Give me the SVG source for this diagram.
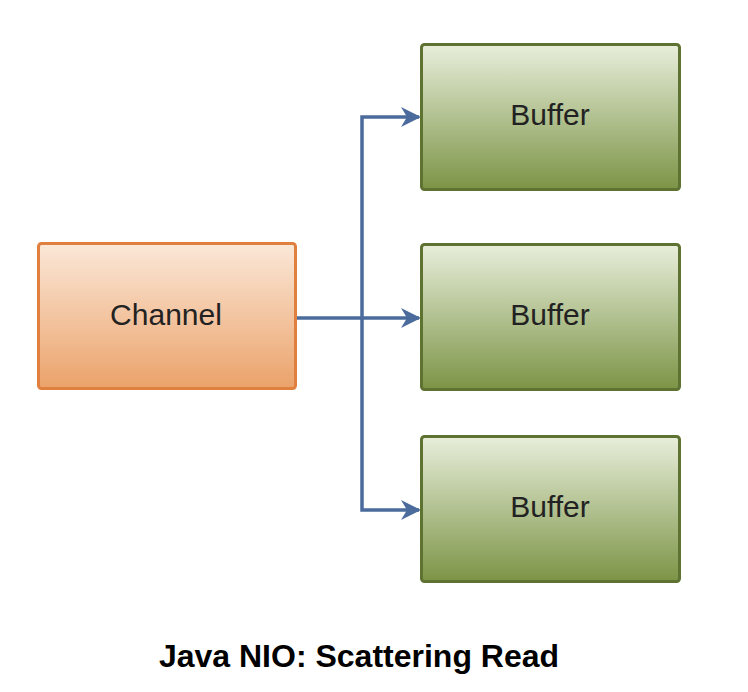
<svg xmlns="http://www.w3.org/2000/svg" width="748" height="692" viewBox="0 0 748 692">
<style>
.lbl{font-family:"Liberation Sans",Arial,sans-serif;font-size:30px;fill:#222;text-anchor:middle;dominant-baseline:central}
.ch{fill:url(#gOrange);stroke:#e0803f;stroke-width:3}
.bf{fill:url(#gGreen);stroke:#5e7232;stroke-width:3}
.con{fill:none;stroke:#4a6b9c;stroke-width:3.5}
.title{font-family:"Liberation Sans",Arial,sans-serif;font-size:32px;font-weight:bold;fill:#000;text-anchor:middle}
</style>
<defs>
<linearGradient id="gOrange" x1="0" y1="0" x2="0" y2="1">
<stop offset="0" stop-color="#fbe8d8"/>
<stop offset="1" stop-color="#eba26a"/>
</linearGradient>
<linearGradient id="gGreen" x1="0" y1="0" x2="0" y2="1">
<stop offset="0" stop-color="#e8eedb"/>
<stop offset="1" stop-color="#7c9446"/>
</linearGradient>
<marker id="arr" markerWidth="20" markerHeight="20" refX="18" refY="10" orient="auto" markerUnits="userSpaceOnUse" viewBox="0 0 20 20">
<path d="M0,0 L20,10 L0,20 L6,10 Z" fill="#4a6b9c"/>
</marker>
</defs>
<g id="connectors">
<path class="con" d="M296,318 H419" marker-end="url(#arr)"/>
<path class="con" d="M362,318 V117 H419" marker-end="url(#arr)"/>
<path class="con" d="M362,318 V510 H419" marker-end="url(#arr)"/>
</g>
<g id="channel">
<rect class="ch" x="38.5" y="243.5" width="257" height="145" rx="3"/>
<text class="lbl" x="166" y="314">Channel</text>
</g>
<g id="buffer1">
<rect class="bf" x="421.5" y="44.5" width="258" height="145" rx="3"/>
<text class="lbl" x="550" y="114">Buffer</text>
</g>
<g id="buffer2">
<rect class="bf" x="421.5" y="244.5" width="258" height="145" rx="3"/>
<text class="lbl" x="550" y="314">Buffer</text>
</g>
<g id="buffer3">
<rect class="bf" x="421.5" y="436.5" width="258" height="145" rx="3"/>
<text class="lbl" x="550" y="506">Buffer</text>
</g>
<text class="title" x="359" y="667">Java NIO: Scattering Read</text>
</svg>
